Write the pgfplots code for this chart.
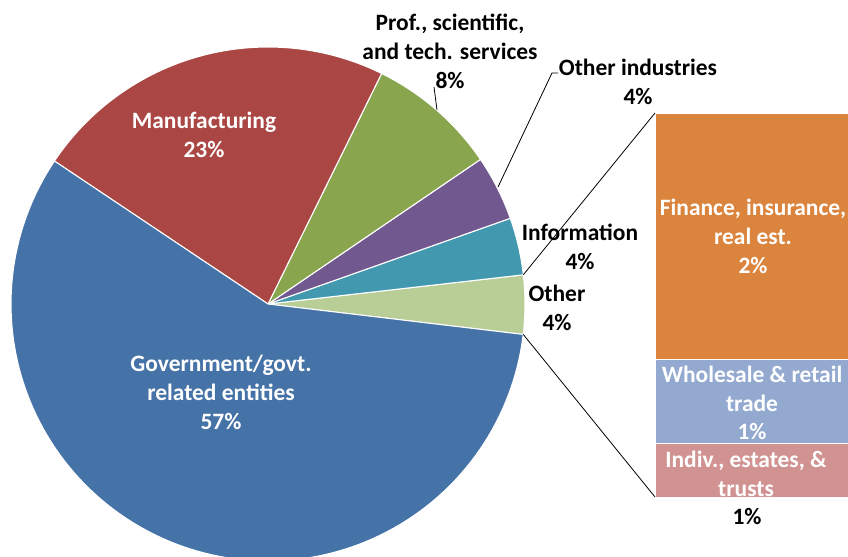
\documentclass[border=0pt]{standalone}
\usepackage{pgfplots}
\pgfplotsset{compat=1.18}
\usepackage{fontspec}
\setmainfont{Carlito}

\definecolor{cGov}{HTML}{4572A7}
\definecolor{cMfg}{HTML}{AA4643}
\definecolor{cProf}{HTML}{89A54E}
\definecolor{cOind}{HTML}{71588F}
\definecolor{cInfo}{HTML}{4198AF}
\definecolor{cOther}{HTML}{B9CD96}
\definecolor{cFin}{HTML}{DB843D}
\definecolor{cWhole}{HTML}{93A9CF}
\definecolor{cIndiv}{HTML}{D19392}

% pie shares (percent), counter-clockwise from the right
\def\vOther{3.7}
\def\vInfo{3.6}
\def\vOind{4.1}
\def\vProf{8.2}
\def\vMfg{22.9}
\def\vGov{57.5}
\pgfmathsetmacro\aA{-6.8}
\pgfmathsetmacro\aB{\aA+3.6*\vOther}
\pgfmathsetmacro\aC{\aB+3.6*\vInfo}
\pgfmathsetmacro\aD{\aC+3.6*\vOind}
\pgfmathsetmacro\aE{\aD+3.6*\vProf}
\pgfmathsetmacro\aF{\aE+3.6*\vMfg}
\pgfmathsetmacro\aG{\aF+3.6*\vGov}

% pie centre and radius, in picture pixels
\def\cx{268}
\def\cy{252}
\def\rr{257}

\begin{document}
\begin{tikzpicture}[font=\fontsize{17.6pt}{21.6pt}\selectfont\bfseries]
% breakdown of "Other"
\begin{axis}[
    at={(491.25pt,44.25pt)}, anchor=origin,
    width=145.5pt, height=288pt, scale only axis,
    hide axis,
    xmin=0, xmax=1, ymin=0, ymax=3.7,
    enlargelimits=false,
    ybar stacked, bar width=1,
]
\addplot[fill=cIndiv, draw=white, line width=0.6pt] coordinates {(0.5,0.52)};
\addplot[fill=cWhole, draw=white, line width=0.6pt] coordinates {(0.5,0.81)};
\addplot[fill=cFin, draw=white, line width=0.6pt] coordinates {(0.5,2.37)};
\end{axis}

\begin{axis}[
    at={(0,0)}, anchor=origin,
    x=0.75pt, y=0.75pt,
    xmin=0, xmax=848, ymin=0, ymax=556,
    hide axis, clip=false,
]
\addplot[fill=cOther, draw=white, line width=0.8pt, domain=\aA:\aB, samples=20, variable=\t]
  ({\cx+\rr*cos(t)},{\cy+\rr*sin(t)}) -- (axis cs:\cx,\cy) -- cycle;
\addplot[fill=cInfo, draw=white, line width=0.8pt, domain=\aB:\aC, samples=20, variable=\t]
  ({\cx+\rr*cos(t)},{\cy+\rr*sin(t)}) -- (axis cs:\cx,\cy) -- cycle;
\addplot[fill=cOind, draw=white, line width=0.8pt, domain=\aC:\aD, samples=20, variable=\t]
  ({\cx+\rr*cos(t)},{\cy+\rr*sin(t)}) -- (axis cs:\cx,\cy) -- cycle;
\addplot[fill=cProf, draw=white, line width=0.8pt, domain=\aD:\aE, samples=30, variable=\t]
  ({\cx+\rr*cos(t)},{\cy+\rr*sin(t)}) -- (axis cs:\cx,\cy) -- cycle;
\addplot[fill=cMfg, draw=white, line width=0.8pt, domain=\aE:\aF, samples=60, variable=\t]
  ({\cx+\rr*cos(t)},{\cy+\rr*sin(t)}) -- (axis cs:\cx,\cy) -- cycle;
\addplot[fill=cGov, draw=white, line width=0.8pt, domain=\aF:\aG, samples=120, variable=\t]
  ({\cx+\rr*cos(t)},{\cy+\rr*sin(t)}) -- (axis cs:\cx,\cy) -- cycle;

% connectors and leader lines
\draw[black, line width=0.6pt] (axis cs:523.3,281.2) -- (axis cs:655,443);
\draw[black, line width=0.6pt] (axis cs:523.2,221.6) -- (axis cs:655,59);
\draw[black, line width=0.6pt] (axis cs:434,469) -- (axis cs:437,446);
\draw[black, line width=0.6pt] (axis cs:558,483) -- (axis cs:552,483) -- (axis cs:498,369);

% labels
\node[white, align=center] at (axis cs:204,421) {Manufacturing\\23\%};
\node[white, align=center] at (axis cs:221,163.5) {Government/govt.\\related entities\\57\%};
\node[align=center] at (axis cs:450,504.5) {Prof., scientific,\\and tech. services\\8\%};
\node[align=center] at (axis cs:638,474) {Other industries\\4\%};
\node[align=center] at (axis cs:580,309) {Information\\4\%};
\node[align=center] at (axis cs:557,248.5) {Other\\4\%};
\node[white, align=center] at (axis cs:753,319.5) {Finance, insurance,\\real est.\\2\%};
\node[white, align=center] at (axis cs:752,153) {Wholesale \& retail\\trade\\1\%};
\node[white, align=center] at (axis cs:746,82) {Indiv., estates, \&\\trusts};
\node at (axis cs:747,39) {1\%};
\end{axis}
\pgfresetboundingbox
\path[use as bounding box] (0,0) rectangle (636pt,417pt);
\end{tikzpicture}
\end{document}
